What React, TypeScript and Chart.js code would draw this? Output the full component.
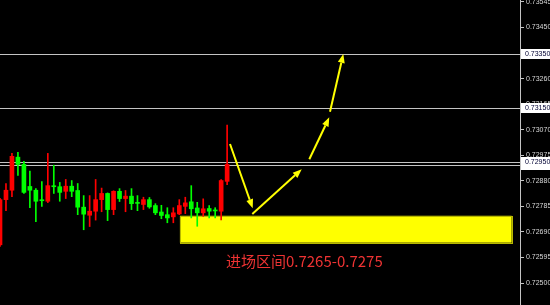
import { useEffect, useRef } from "react";
import { Chart, registerables } from "chart.js";

Chart.register(...registerables);

// Candles, oldest first
const opens = [
  0.72642, 0.7281, 0.72845, 0.72968, 0.72941, 0.72859, 0.72845, 0.72808, 0.72804, 0.7286,
  0.72858, 0.72841, 0.7286, 0.72844, 0.72782, 0.72752, 0.72767, 0.7281, 0.72833, 0.72773,
  0.72841, 0.72814, 0.72823, 0.72798, 0.72792, 0.7281, 0.72788, 0.72764, 0.72754, 0.72746,
  0.72757, 0.72785, 0.72802, 0.72779, 0.72761, 0.72777, 0.7277, 0.72767, 0.72878,
];
const highs = [
  0.72815, 0.7287, 0.72982, 0.72986, 0.72952, 0.72916, 0.72851, 0.72877, 0.72982, 0.72938,
  0.72874, 0.72885, 0.72881, 0.7287, 0.72825, 0.72825, 0.72885, 0.72853, 0.72835, 0.72843,
  0.72851, 0.72844, 0.72851, 0.72825, 0.72819, 0.72818, 0.72795, 0.72789, 0.7278, 0.7278,
  0.7281, 0.72819, 0.72862, 0.728, 0.72813, 0.72788, 0.7278, 0.72885, 0.73087,
];
const lows = [
  0.72636, 0.72769, 0.72821, 0.729, 0.72833, 0.7278, 0.72728, 0.72785, 0.72799, 0.72833,
  0.72804, 0.72814, 0.72821, 0.72754, 0.72698, 0.7271, 0.72734, 0.72765, 0.72732, 0.72754,
  0.72803, 0.72765, 0.72773, 0.72769, 0.72773, 0.72778, 0.72754, 0.72739, 0.72724, 0.72724,
  0.72754, 0.72758, 0.72742, 0.72711, 0.72748, 0.72742, 0.72742, 0.72735, 0.72866,
];
const closes = [
  0.7281, 0.72845, 0.72971, 0.72941, 0.72837, 0.72845, 0.72804, 0.72806, 0.72862, 0.72858,
  0.72837, 0.7286, 0.72841, 0.72782, 0.72756, 0.72767, 0.7281, 0.72833, 0.72773, 0.72841,
  0.72814, 0.72823, 0.72795, 0.72796, 0.7281, 0.72783, 0.72761, 0.72751, 0.72742, 0.72761,
  0.72788, 0.72798, 0.72776, 0.72761, 0.72776, 0.72767, 0.72768, 0.72881, 0.72941,
];

// Bar slots on the time axis (history plus empty space to the right)
const slotCount = 88;

// Price axis
const priceMin = 0.724182;
const priceMax = 0.735524;
const priceTicks = [
  0.73545, 0.7345, 0.73355, 0.7326, 0.73165, 0.7307, 0.72975, 0.7288, 0.72785, 0.7269,
  0.72595, 0.725,
];

// Horizontal levels (drawn in this order, later labels sit on top)
const levelLines = [0.7335, 0.7315, 0.7294, 0.7295];

// Entry zone
const zoneLow = 0.7265;
const zoneHigh = 0.7275;
const zoneStartSlot = 30.1;
const zoneEndSlot = 85.6;

// Projected path arrows: [fromSlot, fromPrice, toSlot, toPrice]
const arrowPaths = [
  [38.48, 0.73017, 42.28, 0.72778],
  [42.21, 0.72757, 50.48, 0.72923],
  [51.75, 0.7296, 55.09, 0.73116],
  [55.21, 0.73137, 57.44, 0.73352],
];

const UP = "#ff0000";
const DOWN = "#00ff00";
const AXIS_FONT = '7px "Liberation Sans", Arial, sans-serif';

const overlayPlugin = {
  id: "overlay",
  beforeDatasetsDraw(chart: any) {
    const { ctx, chartArea, scales } = chart;
    const x = scales.x;
    const y = scales.y;
    ctx.save();
    // entry zone
    const zx0 = x.getPixelForValue(zoneStartSlot);
    const zx1 = x.getPixelForValue(zoneEndSlot);
    const zy0 = y.getPixelForValue(zoneHigh);
    const zy1 = y.getPixelForValue(zoneLow);
    ctx.fillStyle = "#ffff00";
    ctx.fillRect(zx0, zy0, zx1 - zx0, zy1 - zy0);
    ctx.strokeStyle = "#b8b800";
    ctx.lineWidth = 1;
    ctx.strokeRect(Math.round(zx0) + 0.5, Math.round(zy0) + 0.5, Math.round(zx1 - zx0), Math.round(zy1 - zy0));
    // level lines
    ctx.strokeStyle = "#c4c4c4";
    levelLines.forEach((v) => {
      const py = Math.round(y.getPixelForValue(v)) + 0.5;
      ctx.beginPath();
      ctx.moveTo(chartArea.left, py);
      ctx.lineTo(chartArea.right, py);
      ctx.stroke();
    });
    ctx.restore();
  },
  afterDatasetsDraw(chart: any) {
    const { ctx, scales } = chart;
    const x = scales.x;
    const y = scales.y;
    ctx.save();
    ctx.strokeStyle = "#ffff00";
    ctx.fillStyle = "#ffff00";
    ctx.lineWidth = 2;
    arrowPaths.forEach(([s0, p0, s1, p1]) => {
      const ax = x.getPixelForValue(s0);
      const ay = y.getPixelForValue(p0);
      const bx = x.getPixelForValue(s1);
      const by = y.getPixelForValue(p1);
      const ang = Math.atan2(by - ay, bx - ax);
      const head = 9;
      const half = 3.5;
      const cx = bx - Math.cos(ang) * head;
      const cy = by - Math.sin(ang) * head;
      ctx.beginPath();
      ctx.moveTo(ax, ay);
      ctx.lineTo(cx, cy);
      ctx.stroke();
      ctx.beginPath();
      ctx.moveTo(bx, by);
      ctx.lineTo(cx + Math.sin(ang) * half, cy - Math.cos(ang) * half);
      ctx.lineTo(cx - Math.sin(ang) * half, cy + Math.cos(ang) * half);
      ctx.closePath();
      ctx.fill();
    });
    // zone caption
    const zx0 = x.getPixelForValue(zoneStartSlot);
    const zy1 = y.getPixelForValue(zoneLow);
    ctx.fillStyle = "#ee3333";
    ctx.font = '15px "Noto Sans CJK SC", sans-serif';
    ctx.textBaseline = "middle";
    ctx.textAlign = "left";
    ctx.fillText(`进场区间${zoneLow.toFixed(4)}-${zoneHigh.toFixed(4)}`, zx0 + 46, zy1 + 19);
    ctx.restore();
  },
  afterDraw(chart: any) {
    const { ctx, scales, width } = chart;
    const y = scales.y;
    ctx.save();
    ctx.font = AXIS_FONT;
    ctx.textBaseline = "middle";
    ctx.textAlign = "left";
    levelLines.forEach((v) => {
      const py = Math.round(y.getPixelForValue(v));
      const left = y.left + 1;
      ctx.fillStyle = "#ffffff";
      ctx.fillRect(left, py - 5, width - left, 10);
      ctx.fillStyle = "#000033";
      ctx.fillText(v.toFixed(5), left + 4, py + 0.5);
    });
    ctx.restore();
  },
};

export default function App() {
  const canvasRef = useRef<HTMLCanvasElement | null>(null);

  useEffect(() => {
    document.body.style.margin = "0";
    document.body.style.background = "#000";
    const canvas = canvasRef.current;
    if (!canvas) return;

    const labels = Array.from({ length: slotCount }, (_, i) => String(i));
    const colors = opens.map((o, i) => (closes[i] > o ? UP : DOWN));

    const chart = new Chart(canvas, {
      type: "bar",
      data: {
        labels,
        datasets: [
          {
            label: "wick",
            data: lows.map((l, i) => [l, highs[i]]),
            backgroundColor: colors,
            barThickness: 1,
            grouped: false,
            borderWidth: 0,
          } as any,
          {
            label: "body",
            data: opens.map((o, i) => [o, closes[i]]),
            backgroundColor: colors,
            barThickness: 4,
            minBarLength: 1,
            grouped: false,
            borderWidth: 0,
          } as any,
        ],
      },
      options: {
        responsive: false,
        animation: false,
        devicePixelRatio: 1,
        layout: { padding: 0 },
        plugins: {
          legend: { display: false },
          tooltip: { enabled: false },
        },
        scales: {
          x: {
            display: false,
            offset: false,
            grid: { offset: false },
          },
          y: {
            position: "right",
            min: priceMin,
            max: priceMax,
            afterBuildTicks: (scale: any) => {
              scale.ticks = priceTicks.map((v) => ({ value: v }));
            },
            afterFit: (scale: any) => {
              scale.width = 30;
              scale.paddingTop = 0;
              scale.paddingBottom = 0;
            },
            border: { display: true, color: "#c4c4c4", width: 1 },
            grid: {
              drawOnChartArea: false,
              drawTicks: true,
              tickLength: 4,
              color: "#c4c4c4",
            },
            ticks: {
              padding: 2,
              color: "#d8d8d8",
              font: { family: '"Liberation Sans", Arial, sans-serif', size: 7 },
              callback: (v: any) => Number(v).toFixed(5),
              autoSkip: false,
            },
          },
        },
      },
      plugins: [overlayPlugin],
    });

    return () => chart.destroy();
  }, []);

  return (
    <div style={{ width: 550, height: 305, background: "#000", position: "relative" }}>
      <canvas ref={canvasRef} width={550} height={305} style={{ width: 550, height: 305, display: "block" }} />
    </div>
  );
}
